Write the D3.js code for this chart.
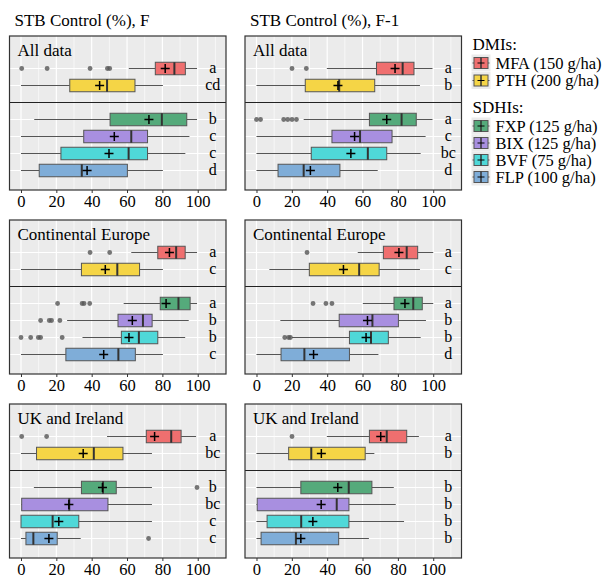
<!DOCTYPE html>
<html>
<head>
<meta charset="utf-8">
<script src="https://d3js.org/d3.v7.min.js"></script>
<style>
  body { margin: 0; background: #fff; }
</style>
</head>
<body>
<svg id="chart"></svg>
<script>
  // treatments, top to bottom in every panel
  var treatments = ["MFA", "PTH", "FXP", "BIX", "BVF", "FLP"];
  var treatmentLabels = ["MFA (150 g/ha)", "PTH (200 g/ha)", "FXP (125 g/ha)", "BIX (125 g/ha)", "BVF (75 g/ha)", "FLP (100 g/ha)"];
  var colors = ["#ef6f6f", "#f5d546", "#55aa7b", "#a88fe0", "#4fd8d8", "#7fadd8"];
  var regions = ["All data", "Continental Europe", "UK and Ireland"];
  var timings = ["F", "F-1"];
  var tickValues = [0, 20, 40, 60, 80, 100];

  // box stats per row: [whiskerLow, q1, median, q3, whiskerHigh, mean]
  var statsF_all = [[61, 76, 86.8, 93, 99.6, 81.6], [0, 27.6, 48.7, 64.5, 80.3, 44.5], [7.5, 50.4, 79.7, 93.8, 99.6, 72.4],
                    [0, 35.5, 62.4, 71.6, 95.3, 52.8], [0, 22.6, 60.9, 71.6, 93, 49.8], [0, 10.3, 34.4, 60.2, 80.3, 37.4]];
  var statsF1_all = [[39.8, 67.9, 82.7, 89.1, 99.6, 78.4], [0, 27.6, 46.8, 66.9, 92.5, 46.1], [26.7, 63.9, 82.1, 90.4, 99.6, 73.7],
                     [0, 42.7, 58.6, 76.7, 95.7, 55.5], [0, 31, 63, 73.7, 92.9, 53.4], [0, 12.2, 26.7, 47.2, 68.6, 30.5]];
  var statsF_ce = [[62.4, 77.4, 87.8, 92.9, 99.6, 84], [0, 34.2, 54.5, 67.1, 80.3, 47.7], [58.1, 78.8, 89.1, 95.7, 99.6, 82.1],
                   [26.1, 54.9, 69, 74.2, 94.9, 63], [34.8, 56.8, 66.7, 77.4, 92.9, 61.1], [0, 25.4, 55.1, 64.7, 80.3, 46.8]];
  var statsF1_ce = [[57.3, 71.8, 85, 91.2, 100, 80.6], [7.3, 29.9, 58.1, 69.4, 92.5, 49.2], [60.2, 77.8, 88.7, 93.8, 100, 84],
                    [13.5, 46.8, 65.6, 80.3, 95.9, 62.8], [20.1, 52.6, 64.8, 74.6, 92.9, 62], [0, 13.9, 27.1, 52.6, 69, 32.3]];
  var statsF_uk = [[48.7, 70.9, 85, 90.6, 99.1, 75.6], [0, 8.8, 41.2, 57.7, 74.1, 35.2], [7.3, 34.2, 46.4, 53.9, 74.1, 46.1],
                   [0, 0.4, 27.3, 49.2, 74.1, 27.1], [0, 0, 17.9, 32.7, 74.1, 21.4], [0, 2.8, 7, 20.5, 33.8, 15.8]];
  var statsF1_uk = [[39.8, 63.9, 73.7, 85, 91.9, 70.3], [0, 18.2, 31, 61.5, 66.7, 36.7], [0, 25.1, 52.2, 65.3, 77.7, 46],
                    [0, 0.4, 45.4, 52.3, 78.8, 36.6], [0, 6, 25.3, 52.3, 83.5, 31.9], [0, 2.6, 22.3, 46.5, 63.6, 25.1]];

  // outliers per row
  var outF_all = [[0.4, 14.8, 39.1, 48.9, 50.2], [], [], [], [], []];
  var outF1_all = [[20.1, 28.2], [], [0, 2.3, 15.4, 17.7, 20.1, 22.6], [], [], []];
  var outF_ce = [[39.1, 50.2], [], [20.7, 34.6, 35.7, 38.9], [11.1, 16, 17.3, 22], [0, 5.5, 9.8, 11.1, 23.3], []];
  var outF1_ce = [[28.6], [], [32, 39.3, 42.7], [], [16, 18.2, 19.2], []];
  var outF_uk = [[0.4, 14.5], [], [99.6], [], [], [72.2]];
  var outF1_uk = [[20.1], [], [], [], [], []];

  // significance letters per row
  var letF_all = ["a", "cd", "b", "c", "c", "d"];
  var letF1_all = ["a", "b", "a", "c", "bc", "d"];
  var letF_ce = ["a", "c", "a", "b", "b", "c"];
  var letF1_ce = ["a", "c", "a", "b", "b", "d"];
  var letF_uk = ["a", "bc", "b", "bc", "c", "c"];
  var letF1_uk = ["a", "b", "b", "b", "b", "b"];

  var stats = [[statsF_all, statsF1_all], [statsF_ce, statsF1_ce], [statsF_uk, statsF1_uk]];
  var outliers = [[outF_all, outF1_all], [outF_ce, outF1_ce], [outF_uk, outF1_uk]];
  var letters = [[letF_all, letF1_all], [letF_ce, letF1_ce], [letF_uk, letF1_uk]];

  var W = 615, H = 582;
  var font = "Liberation Serif";
  var svg = d3.select("#chart").attr("width", W).attr("height", H);

  var colLeft = [9.5, 245], panelW = 216.5;
  var rowTop = [36, 220, 404], panelH = 154, dividerOff = 66.5;
  var rowIndex = [0, 1, 3, 4, 5, 6]; // gap between DMIs and SDHIs
  var fs = 17;

  // serif text helper
  function label(sel, x, y, size, str) {
    return sel.append("text")
      .attr("x", x).attr("y", y)
      .attr("font-family", font).attr("font-size", size)
      .attr("fill", "#000")
      .text(str);
  }

  // column titles
  timings.forEach(function(t, c) {
    label(svg, colLeft[c] + 5, 26, fs, "STB Control (%), " + t);
  });

  regions.forEach(function(region, r) {
    timings.forEach(function(t, c) {
      var x0 = colLeft[c], y0 = rowTop[r];
      var x = d3.scaleLinear().domain([-6.5, 116]).range([x0, x0 + panelW]);
      var y = d3.scaleLinear().domain([0, 6]).range([y0 + 32.5, y0 + 134.5]);
      var g = svg.append("g");

      // background
      g.append("rect").attr("x", x0).attr("y", y0).attr("width", panelW).attr("height", panelH)
        .attr("fill", "#ebebeb");

      // grid lines
      g.selectAll(".minor").data([10, 30, 50, 70, 90, 110]).enter().append("line")
        .attr("x1", function(d) { return x(d); }).attr("x2", function(d) { return x(d); })
        .attr("y1", y0).attr("y2", y0 + panelH)
        .attr("stroke", "#fff").attr("stroke-width", 0.6);
      g.selectAll(".major").data(tickValues).enter().append("line")
        .attr("x1", function(d) { return x(d); }).attr("x2", function(d) { return x(d); })
        .attr("y1", y0).attr("y2", y0 + panelH)
        .attr("stroke", "#fff").attr("stroke-width", 1.2);
      g.selectAll(".hgrid").data(rowIndex).enter().append("line")
        .attr("x1", x0).attr("x2", x0 + panelW)
        .attr("y1", function(d) { return y(d); }).attr("y2", function(d) { return y(d); })
        .attr("stroke", "#fff").attr("stroke-width", 1.2);

      // region label
      label(g, x0 + 8, y0 + 20, fs, region);

      var s = stats[r][c];
      var bh = 12.5;
      treatments.forEach(function(tr, i) {
        var d = s[i], yy = y(rowIndex[i]);
        // whiskers
        g.append("line").attr("x1", x(d[0])).attr("x2", x(d[1])).attr("y1", yy).attr("y2", yy)
          .attr("stroke", "#555").attr("stroke-width", 1);
        g.append("line").attr("x1", x(d[3])).attr("x2", x(d[4])).attr("y1", yy).attr("y2", yy)
          .attr("stroke", "#555").attr("stroke-width", 1);
        // box
        g.append("rect").attr("x", x(d[1])).attr("y", yy - bh / 2)
          .attr("width", x(d[3]) - x(d[1])).attr("height", bh)
          .attr("fill", colors[i]).attr("stroke", "#555").attr("stroke-width", 1);
        // median
        g.append("line").attr("x1", x(d[2])).attr("x2", x(d[2]))
          .attr("y1", yy - bh / 2).attr("y2", yy + bh / 2)
          .attr("stroke", "#333").attr("stroke-width", 2);
        // outliers
        g.selectAll(null).data(outliers[r][c][i]).enter().append("circle")
          .attr("cx", function(v) { return x(v); }).attr("cy", yy).attr("r", 2.4)
          .attr("fill", "#555").attr("opacity", 0.8);
        // mean
        g.append("path")
          .attr("d", "M" + (x(d[5]) - 4.5) + "," + yy + "h9M" + x(d[5]) + "," + (yy - 4.5) + "v9")
          .attr("stroke", "#000").attr("stroke-width", 1.5);
        // letter
        label(g, x(108.5), yy + 4.5, 16, letters[r][c][i])
          .attr("text-anchor", "middle");
      });

      // divider between DMIs and SDHIs
      g.append("line").attr("x1", x0).attr("x2", x0 + panelW)
        .attr("y1", y0 + dividerOff).attr("y2", y0 + dividerOff)
        .attr("stroke", "#222").attr("stroke-width", 1);
      // border
      g.append("rect").attr("x", x0).attr("y", y0).attr("width", panelW).attr("height", panelH)
        .attr("fill", "none").attr("stroke", "#333").attr("stroke-width", 1.2);

      // x axis
      var ax = g.append("g")
        .attr("transform", "translate(0," + (y0 + panelH) + ")")
        .call(d3.axisBottom(x).tickValues(tickValues).tickSize(3).tickPadding(2));
      ax.select(".domain").remove();
      ax.selectAll("line").attr("stroke", "#333");
      ax.selectAll("text")
        .attr("fill", "#000")
        .attr("font-family", font)
        .attr("font-size", 16.5);
    });
  });

  // legend
  var lx = 471.5, kw = 19, kh = 16;
  var legendRows = [63, 80.5, 126, 143, 160, 177];
  var leg = svg.append("g");
  label(leg, lx + 1, 50, fs, "DMIs:");
  label(leg, lx + 1, 112.5, fs, "SDHIs:");
  treatments.forEach(function(tr, i) {
    var yy = legendRows[i];
    leg.append("rect").attr("x", lx).attr("y", yy - kh / 2 - 0.5).attr("width", kw).attr("height", kh + 1)
      .attr("fill", "#ebebeb");
    leg.append("line").attr("x1", lx + 1).attr("x2", lx + kw - 1).attr("y1", yy).attr("y2", yy)
      .attr("stroke", "#555");
    leg.append("rect").attr("x", lx + 2.5).attr("y", yy - 5.5).attr("width", kw - 5).attr("height", 11)
      .attr("fill", colors[i]).attr("stroke", "#555").attr("stroke-width", 1);
    leg.append("line").attr("x1", lx + kw / 2).attr("x2", lx + kw / 2).attr("y1", yy - 5.5).attr("y2", yy + 5.5)
      .attr("stroke", "#333").attr("stroke-width", 1.5);
    leg.append("path")
      .attr("d", "M" + (lx + kw / 2 - 3.5) + "," + yy + "h7")
      .attr("stroke", "#000").attr("stroke-width", 1);
    label(leg, lx + 24, yy + 5.5, 16.5, treatmentLabels[i]);
  });
</script>
</body>
</html>
